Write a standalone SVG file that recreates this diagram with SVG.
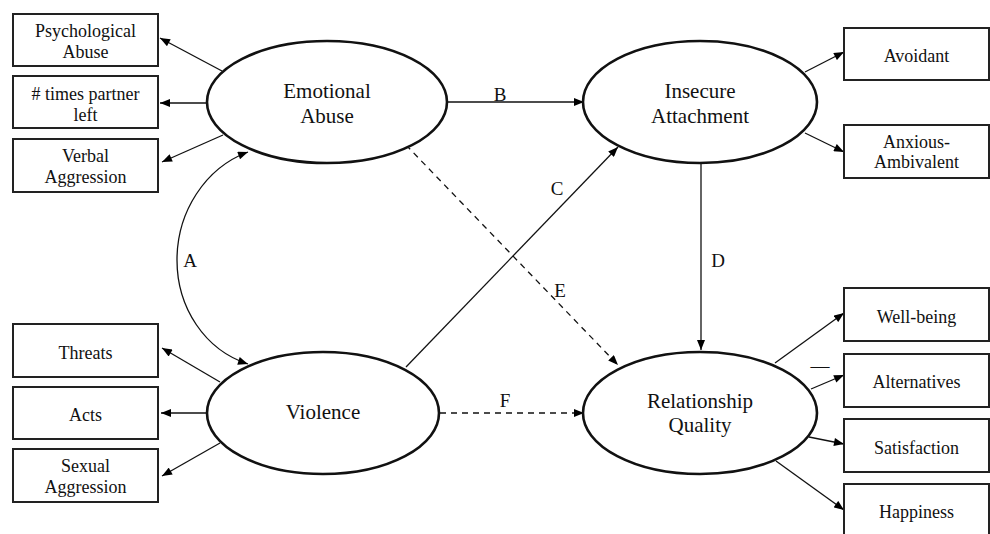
<svg xmlns="http://www.w3.org/2000/svg" width="990" height="534" viewBox="0 0 990 534">
<defs>
<marker id="ah" viewBox="0 0 10 8" refX="10" refY="4" markerWidth="11" markerHeight="8" orient="auto-start-reverse" markerUnits="userSpaceOnUse">
<path d="M0,0 L10,4 L0,8 z" fill="#000"/>
</marker>
<style>
.box{fill:#fff;stroke:#222;stroke-width:2}
.ell{fill:#fff;stroke:#111;stroke-width:2.6}
text{font-family:'Liberation Serif','Times New Roman','DejaVu Serif',Times,serif;fill:#111;text-anchor:middle}
.bt{font-size:18px}
.et{font-size:21px}
.lb{font-size:19px}
.c{fill:none;stroke:#111;stroke-width:1.3;marker-end:url(#ah)}
.d{stroke-dasharray:6,5}
</style>
</defs>
<rect width="990" height="534" fill="#fff"/>
<g id="connectors">
<line class="c" x1="222" y1="71" x2="160" y2="38"/>
<line class="c" x1="207" y1="103" x2="160" y2="103"/>
<line class="c" x1="223" y1="135" x2="162" y2="162"/>
<line class="c" x1="220" y1="382" x2="162" y2="348"/>
<line class="c" x1="207" y1="413" x2="161" y2="413"/>
<line class="c" x1="220" y1="443" x2="162" y2="476"/>
<line class="c" x1="805" y1="72" x2="844" y2="52"/>
<line class="c" x1="805" y1="133" x2="844" y2="152"/>
<line class="c" x1="775" y1="363" x2="844" y2="313"/>
<line class="c" x1="811" y1="389" x2="844" y2="375"/>
<line class="c" x1="809" y1="437" x2="844" y2="444"/>
<line class="c" x1="776" y1="461" x2="844" y2="510"/>
<line class="c" x1="448" y1="102" x2="584" y2="102"/>
<line class="c" x1="701" y1="164" x2="701" y2="350"/>
<line class="c" x1="406" y1="367" x2="618" y2="147"/>
<line class="c d" x1="406" y1="145" x2="618" y2="365"/>
<line class="c d" x1="440" y1="413" x2="584" y2="413"/>
<path class="c" style="marker-start:url(#ah)" d="M248,152 C205,168 177,212 177,260 C177,308 205,350 248,364"/>
<text class="lb" x="500" y="101">B</text>
<text class="lb" x="557" y="195">C</text>
<text class="lb" x="190" y="267">A</text>
<text class="lb" x="718" y="267">D</text>
<text class="lb" x="560" y="297">E</text>
<text class="lb" x="505" y="407">F</text>
<text class="lb" x="820" y="372">—</text>
</g>
<g id="psych"><rect class="box" x="13" y="14" width="145" height="52"/><text class="bt" x="85.5" y="37">Psychological</text><text class="bt" x="85.5" y="58">Abuse</text></g>
<g id="times"><rect class="box" x="13" y="76" width="145" height="52"/><text class="bt" x="85.5" y="100"># times partner</text><text class="bt" x="85.5" y="121">left</text></g>
<g id="verbal"><rect class="box" x="13" y="139" width="145" height="53"/><text class="bt" x="85.5" y="162">Verbal</text><text class="bt" x="85.5" y="183">Aggression</text></g>
<g id="threats"><rect class="box" x="13" y="324" width="145" height="53"/><text class="bt" x="85.5" y="359">Threats</text></g>
<g id="acts"><rect class="box" x="13" y="387" width="145" height="52"/><text class="bt" x="85.5" y="421">Acts</text></g>
<g id="sexual"><rect class="box" x="13" y="449" width="145" height="53"/><text class="bt" x="85.5" y="472">Sexual</text><text class="bt" x="85.5" y="493">Aggression</text></g>
<g id="emotional"><ellipse class="ell" cx="327" cy="102" rx="120" ry="61"/><text class="et" x="327" y="98">Emotional</text><text class="et" x="327" y="123">Abuse</text></g>
<g id="violence"><ellipse class="ell" cx="323" cy="413" rx="116" ry="61"/><text class="et" x="323" y="419">Violence</text></g>
<g id="insecure"><ellipse class="ell" cx="700" cy="102" rx="117" ry="61"/><text class="et" x="700" y="98">Insecure</text><text class="et" x="700" y="123">Attachment</text></g>
<g id="relationship"><ellipse class="ell" cx="700" cy="413" rx="117" ry="61"/><text class="et" x="700" y="408">Relationship</text><text class="et" x="700" y="432">Quality</text></g>
<g id="avoidant"><rect class="box" x="844" y="28" width="145" height="52"/><text class="bt" x="916.5" y="62">Avoidant</text></g>
<g id="anxious"><rect class="box" x="844" y="125" width="145" height="53"/><text class="bt" x="916.5" y="148">Anxious-</text><text class="bt" x="916.5" y="168">Ambivalent</text></g>
<g id="wellbeing"><rect class="box" x="844" y="288" width="145" height="53"/><text class="bt" x="916.5" y="323">Well-being</text></g>
<g id="alternatives"><rect class="box" x="844" y="354" width="145" height="53"/><text class="bt" x="916.5" y="388">Alternatives</text></g>
<g id="satisfaction"><rect class="box" x="844" y="419" width="145" height="53"/><text class="bt" x="916.5" y="454">Satisfaction</text></g>
<g id="happiness"><rect class="box" x="844" y="484" width="145" height="53"/><text class="bt" x="916.5" y="518">Happiness</text></g>
</svg>
